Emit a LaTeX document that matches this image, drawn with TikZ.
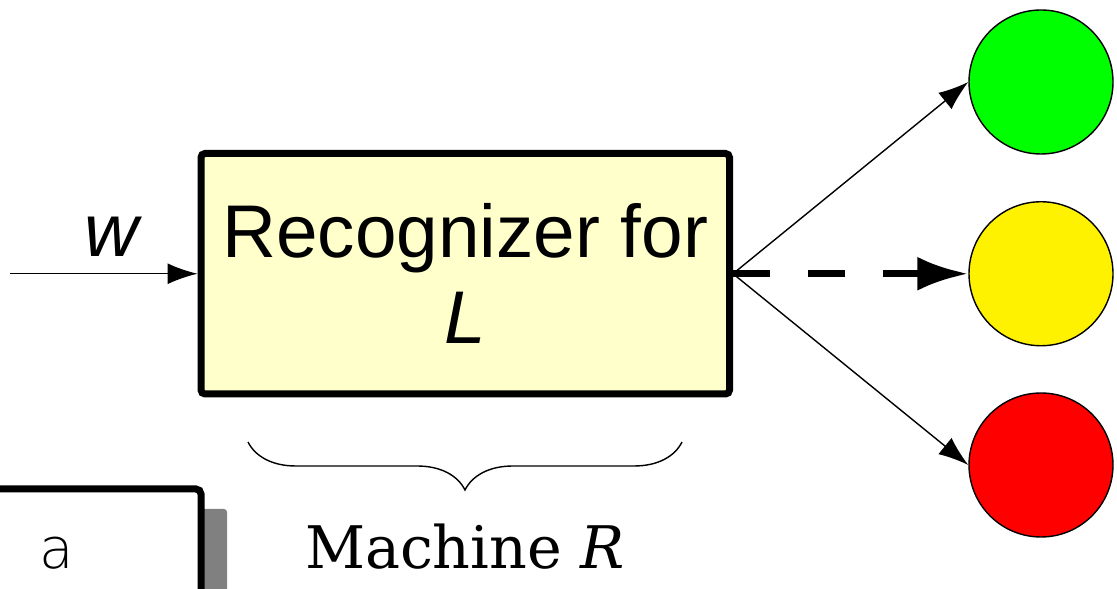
\documentclass[tikz,border=0pt]{standalone}
\usepackage{fontspec}
\setmainfont{Liberation Sans}
\newfontfamily\serifface{DejaVu Serif}
\newfontfamily\handface{DejaVu Sans ExtraLight}
\usetikzlibrary{arrows.meta,decorations.pathreplacing}
\definecolor{paleyellow}{RGB}{255,255,204}

\begin{document}
\begin{tikzpicture}[
    lamp/.style={draw, circle, minimum size=1.44cm, inner sep=0pt, line width=0.4pt},
    thinarrow/.style={-{Latex[length=0.30cm, width=0.21cm]}, line width=0.4pt},
    bigfont/.style={font=\fontsize{21.25}{24.5}\selectfont}
  ]
    \useasboundingbox (0,0) rectangle (11.17,5.89);

    \node[draw, line width=0.07cm, rounded corners=0.04cm, fill=paleyellow,
          minimum width=5.285cm, minimum height=2.405cm, align=center, bigfont]
          (rec) at (4.6525,3.1525) {Recognizer for\\\textit{L}};

    \coordinate (src) at (0.10,3.1525);
    \draw[thinarrow] (src) -- (rec);
    \node[bigfont, anchor=base] (wlabel) at (1.13,3.32) {\textit{w}};

    \node[lamp, fill=green] (go) at (10.41,5.07) {};
    \node[lamp, fill=yellow] (wait) at (10.41,3.1525) {};
    \node[lamp, fill=red] (stop) at (10.41,1.24) {};

    \draw[thinarrow] (rec.east) -- (go.west);
    \draw[thinarrow] (rec.east) -- (stop.west);
    \draw[line width=0.07cm, dash pattern=on 0.37cm off 0.38cm,
          -{Latex[length=0.51cm, width=0.34cm]}] (rec.east) -- (wait.west);

    \coordinate (bl) at (2.48,1.47);
    \coordinate (br) at (6.82,1.47);
    \draw[decorate, decoration={brace, mirror, amplitude=0.48cm}, line width=0.4pt] (bl) -- (br);
    \node[font=\serifface\fontsize{16.7}{19}\selectfont, anchor=base] (mach) at (4.65,0.20) {Machine \textit{R}};

    \begin{scope}
      \clip (0,0) rectangle (11.17,5.89);
      \fill[black!50, rounded corners=0.03cm] (-0.5,-0.5) rectangle (2.27,0.80);
      \draw[fill=white, line width=0.07cm, rounded corners=0.05cm] (-0.5,-0.5) rectangle (2.01,1.00);
    \end{scope}
    \node[font=\handface\fontsize{16}{19}\selectfont, anchor=base] (sym) at (0.57,0.20) {a};
\end{tikzpicture}
\end{document}
